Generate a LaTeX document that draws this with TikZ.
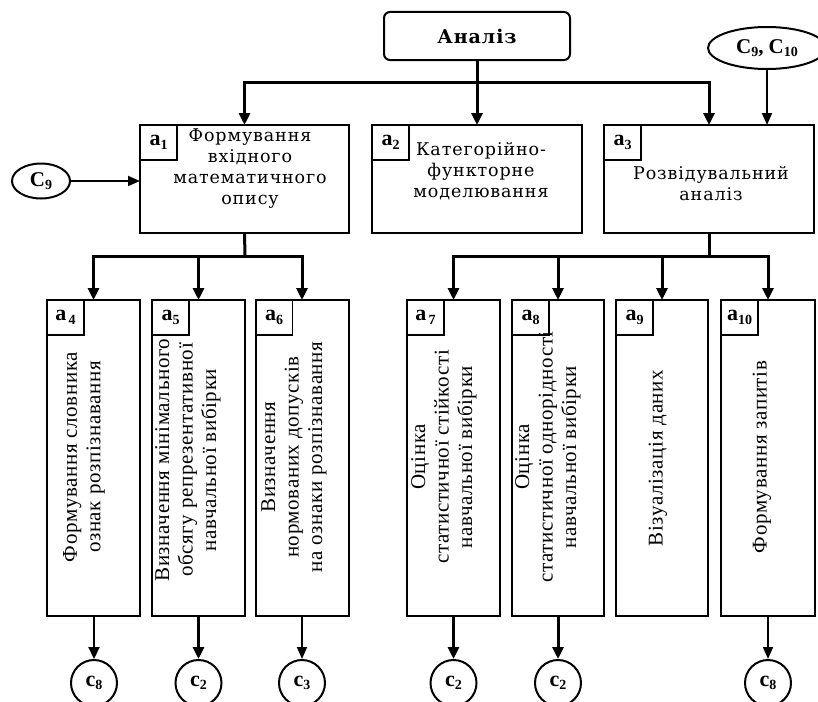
\documentclass[tikz,border=0pt]{standalone}
\usepackage{fontspec}
\setmainfont{Liberation Serif}
\newfontfamily\boxfont[LetterSpace=5]{DejaVu Serif}
\newfontfamily\vertfont[LetterSpace=3]{Liberation Serif}
\usetikzlibrary{arrows.meta,shapes.geometric}

\newcommand{\lbl}[2]{{\bfseries #1\raisebox{-0.35ex}{\fontsize{14}{14}\selectfont #2}}}

\begin{document}
\begin{tikzpicture}[x=1pt,y=1pt,yscale=-1,xscale=1,
  box/.style={draw, line width=2pt, outer sep=0pt, inner sep=0pt},
  cell/.style={draw, line width=1.3pt, outer sep=0pt, inner sep=0pt, anchor=north west,
    minimum width=37, minimum height=35, font=\fontsize{22}{22}\selectfont},
  upper/.style={align=center, font=\boxfont\fontsize{17.5}{21}\selectfont},
  vert/.style={align=center, rotate=90, font=\vertfont\fontsize{21}{23.5}\selectfont},
  endc/.style={draw, circle, line width=2pt, minimum size=46, inner sep=0pt,
    font=\fontsize{22}{22}\selectfont},
  oval/.style={draw, ellipse, line width=2pt, inner sep=0pt, font=\fontsize{21}{21}\selectfont},
  conn/.style={line width=3pt, -{Triangle[length=12pt,width=11pt]}},
  thinconn/.style={line width=1.8pt, -{Triangle[length=12pt,width=10pt]}}]

\useasboundingbox (0,0) rectangle (818,701);

\node[box, rounded corners=6pt, minimum width=186, minimum height=48] (an) at (477,36)
  {\boxfont\bfseries\fontsize{19}{19}\selectfont Аналіз};
\node[oval, minimum width=118, minimum height=42] (c910) at (767,48) {\lbl{C}{9}\textbf{,} \lbl{C}{10}};
\node[oval, minimum width=58, minimum height=35] (c9) at (41,181) {\lbl{C}{9}};

% upper level
\node[box, minimum width=209, minimum height=108] (a1) at (244.5,179) {};
\node[box, minimum width=210, minimum height=108] (a2) at (477,179) {};
\node[box, minimum width=210, minimum height=108] (a3) at (709,179) {};
\node[cell] (l1) at (a1.north west) {\lbl{a}{1}};
\node[cell] (l2) at (a2.north west) {\lbl{a}{2}};
\node[cell] (l3) at (a3.north west) {\lbl{a}{3}};
\node[upper] (t1) at (250,169) {Формування\\вхідного\\математичного\\опису};
\node[upper] (t2) at (481,171) {Категорійно-\\функторне\\моделювання};
\node[upper] (t3) at (711,184) {Розвідувальний\\аналіз};

% lower level
\node[box, minimum width=93, minimum height=316] (a4) at (93.5,458) {};
\node[box, minimum width=93, minimum height=316] (a5) at (198.5,458) {};
\node[box, minimum width=93, minimum height=316] (a6) at (302,458) {};
\node[box, minimum width=93, minimum height=316] (a7) at (453.5,458) {};
\node[box, minimum width=92, minimum height=316] (a8) at (558,458) {};
\node[box, minimum width=92, minimum height=316] (a9) at (662,458) {};
\node[box, minimum width=94, minimum height=316] (a10) at (768,458) {};
\node[cell] (l4) at (a4.north west) {\lbl{a}{\,4}};
\node[cell] (l5) at (a5.north west) {\lbl{a}{5}};
\node[cell] (l6) at (a6.north west) {\lbl{a}{6}};
\node[cell] (l7) at (a7.north west) {\lbl{a}{\,7}};
\node[cell] (l8) at (a8.north west) {\lbl{a}{8}};
\node[cell] (l9) at (a9.north west) {\lbl{a}{9}};
\node[cell] (l10) at (a10.north west) {\lbl{a}{10}};
\node[vert] (t4) at (84,457) {Формування словника\\ознак розпізнавання};
\node[vert] (t5) at (188,460) {Визначення мінімального\\обсягу репрезентативної\\навчальної вибірки};
\node[vert] (t6) at (294,457) {Визначення\\нормованих допусків\\на ознаки розпізнавання};
\node[vert] (t7) at (444,457) {Оцінка\\статистичної стійкості\\навчальної вибірки};
\node[vert] (t8) at (548,457) {Оцінка\\статистичної однорідності\\навчальної вибірки};
\node[vert] (t9) at (658,458) {Візуалізація даних};
\node[vert] (t10) at (762,457) {Формування запитів};

\node[endc] (e4) at (94,683) {\lbl{c}{8}};
\node[endc] (e5) at (198.5,683) {\lbl{c}{2}};
\node[endc] (e6) at (302,683) {\lbl{c}{3}};
\node[endc] (e7) at (453.5,683) {\lbl{c}{2}};
\node[endc] (e8) at (558,683) {\lbl{c}{2}};
\node[endc] (e10) at (768,683) {\lbl{c}{8}};

% connectors
\coordinate (top) at (477,82);
\coordinate (bl) at (245,256);
\coordinate (br) at (709,256);

\draw[conn] (an.south) -- (a2.north);
\draw[conn] (top) -| (a1.north);
\draw[conn] (top) -| (a3.north);
\draw[thinconn] (c910.south) -- (c910.south |- a3.north);
\draw[thinconn] (c9.east) -- (a1.west |- c9.east);

\draw[line width=3pt] (a1.south) -- (bl);
\draw[conn] (bl) -| (a4.north);
\draw[conn] (bl) -| (a5.north);
\draw[conn] (bl) -| (a6.north);
\draw[line width=3pt] (a3.south) -- (br);
\draw[conn] (br) -| (a7.north);
\draw[conn] (br) -| (a8.north);
\draw[conn] (br) -| (a9.north);
\draw[conn] (br) -| (a10.north);

\draw[conn, line width=2.2pt] (a4.south -| e4.north) -- (e4.north);
\draw[conn] (a5.south) -- (e5.north);
\draw[thinconn] (a6.south) -- (e6.north);
\draw[conn] (a7.south) -- (e7.north);
\draw[conn] (a8.south) -- (e8.north);
\draw[thinconn] (a10.south) -- (e10.north);

\end{tikzpicture}
\end{document}
